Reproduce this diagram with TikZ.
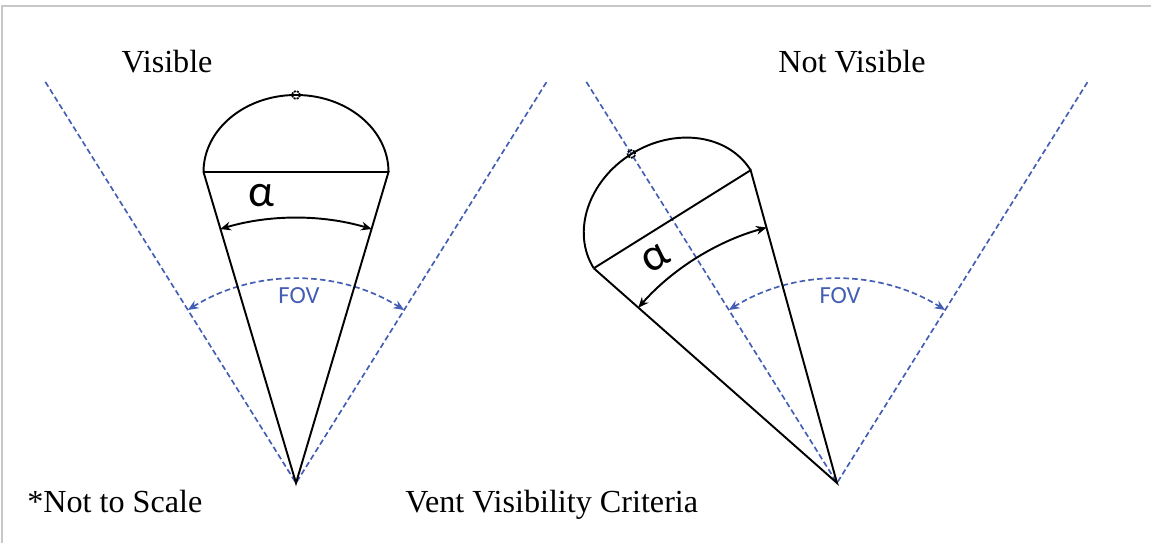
\documentclass[tikz,border=0pt]{standalone}
\usepackage{fontspec}
\setmainfont{Liberation Serif}
\newfontfamily\calibri{Carlito}
\usetikzlibrary{arrows.meta}

\definecolor{fovblue}{RGB}{68,94,180}
\definecolor{framegray}{RGB}{200,200,200}

\tikzset{
    fovline/.style={fovblue, dash pattern=on 3.2pt off 1.8pt, line width=0.95pt},
    fovarc/.style={fovline, {Stealth[length=6pt,width=5pt]}-{Stealth[length=6pt,width=5pt]}},
    cone/.style={black, line width=1.1pt},
    alphaarc/.style={cone, {Stealth[length=6pt,width=5pt]}-{Stealth[length=6pt,width=5pt]}},
    title/.style={font=\fontsize{18.3}{22}\selectfont, anchor=base, inner sep=0pt},
    alphalbl/.style={font=\calibri\fontsize{26}{30}\selectfont},
    fovlbl/.style={font=\calibri\fontsize{14}{16}\selectfont, text=fovblue},
    ventmark/.style={line width=1pt, dash pattern=on 1.2pt off 0.6pt},
}

\begin{document}
\begin{tikzpicture}[x=0.02cm, y=0.02cm]
    \useasboundingbox (0,0) rectangle (1151,543);

    % Frame
    \draw[framegray, line width=1pt] (2,0) -- (2,537) -- (1151,537);

    % Titles
    \node[title] (tvis) at (167,470) {Visible};
    \node[title] (tnot) at (852,470) {Not Visible};
    \node[title, anchor=base west] (tscale) at (27,30) {*Not to Scale};
    \node[title, anchor=base west] (tcrit) at (405,30) {Vent Visibility Criteria};

    % Visible: field of view
    \begin{scope}[shift={(296,60)}]
        \coordinate (v1) at (0,0);
        \coordinate (v1l) at (122:473);
        \coordinate (v1r) at (58:473);
        \draw[fovline] (v1l) -- (v1) -- (v1r);
        \draw[fovarc] (122:204) arc[start angle=122, end angle=58, radius=204];
        \node[fovlbl] (fov1) at (3,187) {FOV};

        % Vent cone
        \coordinate (c1l) at (-92.5,311);
        \coordinate (c1r) at (92.5,311);
        \draw[cone] (c1l) -- (v1) -- (c1r) -- (c1l);
        \draw[cone] (c1r) arc[start angle=0, end angle=180, x radius=92.5, y radius=77];
        \draw[ventmark] (0,388) circle[radius=4];
        \draw[alphaarc] (106.6:265) arc[start angle=106.6, end angle=73.4, radius=265];
        \node[alphalbl] (a1) at (-35,287) {α};
    \end{scope}

    % Not visible: field of view
    \begin{scope}[shift={(837,60)}]
        \coordinate (v2) at (0,0);
        \coordinate (v2l) at (122:473);
        \coordinate (v2r) at (58:473);
        \draw[fovline] (v2l) -- (v2) -- (v2r);
        \draw[fovarc] (122:204) arc[start angle=122, end angle=58, radius=204];
        \node[fovlbl] (fov2) at (3,187) {FOV};
    \end{scope}

    % Vent cone, turned onto the FOV edge
    \begin{scope}[shift={(837,60)}, rotate=32]
        \coordinate (c2l) at (-92.5,311);
        \coordinate (c2r) at (92.5,311);
        \draw[cone] (c2l) -- (v2) -- (c2r) -- (c2l);
        \draw[cone] (c2r) arc[start angle=0, end angle=180, x radius=92.5, y radius=77];
        \draw[ventmark] (0,388) circle[radius=4];
        \draw[alphaarc] (106.6:265) arc[start angle=106.6, end angle=73.4, radius=265];
        \node[alphalbl, rotate=32] (a2) at (-35,287) {α};
    \end{scope}
\end{tikzpicture}
\end{document}
